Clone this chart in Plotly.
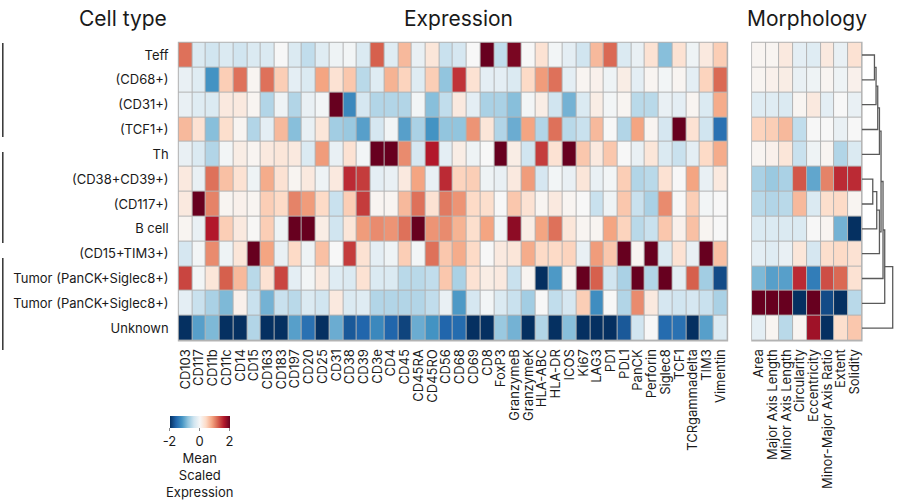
import plotly.graph_objects as go

W, H = 898, 504

cell_types = ["Teff", "(CD68+)", "(CD31+)", "(TCF1+)", "Th", "(CD38+CD39+)", "(CD117+)",
              "B cell", "(CD15+TIM3+)", "Tumor (PanCK+Siglec8+)", "Tumor (PanCK+Siglec8+)", "Unknown"]

markers = ["CD103", "CD117", "CD11b", "CD11c", "CD14", "CD15", "CD163", "CD183", "CD197", "CD20",
           "CD25", "CD31", "CD38", "CD39", "CD3e", "CD4", "CD45", "CD45RA", "CD45RO", "CD56",
           "CD68", "CD69", "CD8", "FoxP3", "GranzymeB", "GranzymeK", "HLA-ABC", "HLA-DR", "ICOS", "Ki67",
           "LAG3", "PD1", "PDL1", "PanCK", "Perforin", "Siglec8", "TCF1", "TCRgammadelta", "TIM3", "Vimentin"]

morph_features = ["Area", "Major Axis Length", "Minor Axis Length", "Circularity", "Eccentricity",
                  "Minor-Major Axis Ratio", "Extent", "Solidity"]

expr_teff = [1.1, -0.3, -0.4, -0.3, -0.4, -0.3, -0.3, 0.0, -0.3, -0.5, -0.25, -0.1, -0.05,
             -0.3, 1.2, -0.25, 0.65, -0.15, 0.25, -0.45, -0.35, 0.0, 2.0, -0.5, 1.9, 0.0,
             0.3, -0.05, -0.2, -0.4, 0.65, 1.15, -0.3, -0.15, 0.3, -0.85, 0.3, -0.1, 0.2, 0.5]
expr_cd68 = [-0.15, -0.25, -1.2, 0.5, 1.1, 0.05, 1.1, 0.5, -0.2, -0.3, 0.8, 0.3, 0.55,
             -0.55, -0.25, 0.7, 0.45, -0.25, 0.5, -0.8, 1.45, 0.3, -0.2, -0.2, -0.3, 0.4,
             0.85, 1.1, -0.2, 0.05, 0.1, -0.1, 0.15, -0.2, 0.05, -0.05, 0.05, -0.2, 0.45, 1.15]
expr_cd31 = [-0.15, -0.25, -0.3, 0.2, 0.2, 0.05, -0.6, -0.1, -0.6, -0.15, -0.05, 2.1, -1.3,
             -0.35, -0.6, -0.6, -0.6, -0.05, -0.85, -0.5, 0.2, -0.2, -0.65, -0.65, -0.85, -0.05,
             0.15, -0.4, -0.95, -0.3, 0.15, -0.05, 0.05, -0.55, -0.55, -0.15, -0.2, 0.05, -0.3, 0.75]
expr_tcf1 = [0.65, 0.3, -0.85, 0.35, 0.05, -0.6, -0.2, 0.65, -0.85, -0.15, 0.25, -0.7, -0.75,
             -1.1, -0.35, -0.05, -1.1, -0.65, -1.2, -0.8, -0.8, 0.9, 0.25, -0.6, -1.0, 0.8,
             -0.6, 1.1, -0.55, -0.45, 0.65, 0.0, -0.6, 0.8, 0.05, -0.35, 2.1, 0.3, -0.4, -1.5]
expr_th = [-0.15, -0.3, -0.6, -0.05, 0.15, 0.05, 0.2, 0.25, 0.2, -0.3, 0.85, -0.15, 0.3,
           -0.05, 2.1, 2.1, 0.95, -0.35, 1.6, -0.2, 0.15, -0.1, 0.0, 2.1, 0.15, -0.4,
           1.4, 0.3, 2.1, 0.55, 0.2, 0.55, 0.0, -0.15, 0.25, -0.3, -0.45, -0.2, 0.4, 0.75]
expr_cd38 = [0.2, -0.15, 1.1, 0.6, 0.3, -0.1, 0.75, 0.3, 0.05, 0.2, -0.1, 0.2, 1.5,
             1.4, -0.2, -0.15, 0.2, 0.8, -0.15, 1.5, 0.45, 0.5, -0.1, -0.15, 0.2, 0.85,
             -0.35, -0.05, -0.15, 0.25, -0.15, -0.05, 0.5, -0.6, -0.55, 0.3, 0.0, 0.8, -0.15, 0.2]
expr_cd117 = [0.2, 2.1, 1.0, 0.05, 0.1, 0.05, 0.5, 0.4, 1.0, 0.85, 0.4, -0.45, 0.5,
              1.4, 0.05, 0.05, 0.65, 1.1, 0.3, 1.05, 0.9, 0.4, 0.35, 0.0, 0.55, 0.3,
              0.05, 0.2, 0.05, 0.0, -0.45, -0.1, 0.55, -0.45, -0.65, 0.95, 0.0, 0.5, -0.05, 0.0]
expr_bcell = [0.05, -0.15, 1.6, 0.5, 0.2, 0.02, 0.5, -0.1, 2.1, 2.1, 0.15, -0.4, 0.25,
              0.85, 0.95, 0.9, 1.1, 2.1, 0.9, 0.95, 0.7, 0.35, 0.8, -0.05, 1.8, 0.15,
              0.8, 1.1, 0.25, 0.05, 0.05, 0.8, 0.45, -0.55, -0.45, 0.55, 0.1, 0.6, 0.05, 0.0]
expr_cd15 = [-0.35, -0.05, 0.95, -0.1, 0.25, 2.1, 0.8, -0.15, 0.4, -0.1, 0.6, 0.0, 1.4,
             0.3, -0.2, -0.1, 0.5, -0.05, 1.1, 0.55, 0.75, 0.4, 0.0, 0.2, 0.25, 0.75,
             0.4, 0.4, 0.45, -0.15, 0.85, 0.55, 2.1, 0.05, 2.1, -0.3, 0.3, -0.15, 2.1, 0.6]
expr_tumor1 = [1.35, -0.05, 0.25, 1.2, 0.65, -0.55, 0.3, 1.35, -0.2, -0.05, 0.2, -0.25, -0.3,
               0.3, -0.3, -0.3, -0.55, -0.55, -0.5, 0.55, -0.65, 0.3, 0.15, 0.2, -0.45, 0.05,
               -2.1, -1.15, 0.05, 2.1, 1.2, -0.4, -0.65, 2.1, -0.6, 2.1, -0.2, 1.2, -0.7, -1.8]
expr_tumor2 = [-0.2, -0.45, -0.65, -0.9, 0.1, -0.45, -0.95, -0.45, -0.55, -0.3, -0.4, 0.2, -0.3,
               -0.25, -0.6, -0.6, -0.6, -0.6, -0.5, -0.15, -1.15, -0.35, -0.05, -0.3, -0.45, -0.7,
               0.0, -0.5, -0.35, 0.5, -1.25, 0.0, -0.6, 0.95, 0.2, -0.35, -0.4, -0.35, -0.45, -0.65]
expr_unknown = [-2.2, -1.1, -0.9, -2.2, -2.2, -0.6, -2.2, -2.2, -1.1, -1.5, -2.1, -1.0, -1.7,
                -1.6, -1.3, -1.6, -1.85, -1.0, -1.2, -1.6, -1.55, -2.1, -2.1, -0.75, -0.95, -2.1,
                -0.6, -2.0, -0.85, -2.1, -2.1, -2.1, -1.7, -0.4, 0.0, -1.55, -1.5, -2.0, -1.1, -0.3]

morph_teff = [0.05, 0.05, 0.2, -0.2, -0.25, 0.2, -0.15, 0.3]
morph_cd68 = [0.05, 0.1, 0.15, -0.15, -0.1, 0.05, -0.1, 0.1]
morph_cd31 = [-0.25, -0.25, -0.3, 0.05, 0.2, -0.2, 0.0, -0.15]
morph_tcf1 = [0.45, 0.5, 0.65, -0.5, 0.0, 0.0, -0.15, 0.0]
morph_th = [0.05, 0.1, 0.25, -0.45, -0.1, 0.05, -0.6, -0.3]
morph_cd38 = [-0.65, -0.75, -0.65, 1.25, -1.05, 1.0, 1.5, 1.5]
morph_cd117 = [-0.55, -0.6, -0.55, 0.65, -0.3, 0.35, 0.4, 0.05]
morph_bcell = [-0.3, -0.3, -0.3, -0.3, 0.0, 0.05, -0.95, -2.1]
morph_cd15 = [-0.2, -0.25, -0.15, 0.25, -0.35, 0.35, 0.4, 0.3]
morph_tumor1 = [-0.9, -1.1, -1.1, 1.5, -1.4, 1.3, 1.15, 0.3]
morph_tumor2 = [2.1, 2.1, 2.1, -2.1, 2.0, -1.8, -2.1, -0.55]
morph_unknown = [-0.2, 0.05, -0.55, 0.05, 1.7, -2.0, 0.35, 0.55]

# row dendrogram: (child a, child b, merge distance); leaves 0..11, new clusters 12..
dendro_merges = [(0, 1, 12.7), (12, 2, 14.3), (13, 3, 16.0), (14, 4, 17.7),
                 (5, 6, 11.0), (16, 7, 15.0), (17, 8, 17.7), (15, 18, 19.3),
                 (19, 9, 21.3), (20, 10, 23.0), (21, 11, 31.0)]

expr = [expr_teff, expr_cd68, expr_cd31, expr_tcf1, expr_th, expr_cd38, expr_cd117,
        expr_bcell, expr_cd15, expr_tumor1, expr_tumor2, expr_unknown]
morph = [morph_teff, morph_cd68, morph_cd31, morph_tcf1, morph_th, morph_cd38, morph_cd117,
         morph_bcell, morph_cd15, morph_tumor1, morph_tumor2, morph_unknown]

rdbu = ["#053061", "#2166ac", "#4393c3", "#92c5de", "#d1e5f0", "#f7f7f7",
        "#fddbc7", "#f4a582", "#d6604d", "#b2182b", "#67001f"]
colorscale = [[i / 10, c] for i, c in enumerate(rdbu)]

FONT = "Inter"
TXT = "#1a1a1a"


def px(x):
    return x / W


def py(y):
    return 1 - y / H


HM_TOP, HM_BOT = 42.6, 340.6
EX_L, EX_R = 177.0, 727.0
MO_L, MO_R = 751.7, 861.7

n_rows = len(cell_types)
rows = list(range(n_rows))

fig = go.Figure()
fig.add_trace(go.Heatmap(x=list(range(len(markers))), y=rows, z=expr, coloraxis="coloraxis",
                         xgap=1, ygap=1, xaxis="x", yaxis="y", hoverinfo="z"))
fig.add_trace(go.Heatmap(x=list(range(len(morph_features))), y=rows, z=morph, coloraxis="coloraxis",
                         xgap=1, ygap=1, xaxis="x2", yaxis="y2", hoverinfo="z"))

# dendrogram
pos = {i: float(i) for i in rows}
hgt = {i: 0.0 for i in rows}
dx, dy = [], []
for k, (a, b, h) in enumerate(dendro_merges):
    dx += [hgt[a], h, h, hgt[b], None]
    dy += [pos[a], pos[a], pos[b], pos[b], None]
    pos[n_rows + k] = (pos[a] + pos[b]) / 2
    hgt[n_rows + k] = h
fig.add_trace(go.Scatter(x=dx, y=dy, mode="lines", line=dict(color="#5a5a5a", width=1.3),
                         xaxis="x3", yaxis="y3", hoverinfo="skip", showlegend=False))

ydom = [py(HM_BOT), py(HM_TOP)]
yr = [n_rows - 0.5, -0.5]
common_ax = dict(showgrid=False, zeroline=False, showline=False, ticks="")

fig.update_layout(
    width=W, height=H, margin=dict(l=0, r=0, t=0, b=0),
    paper_bgcolor="white", plot_bgcolor="rgba(0,0,0,0)",
    font=dict(family=FONT, color=TXT, size=13),
    showlegend=False,
    xaxis=dict(domain=[px(EX_L), px(EX_R)], range=[-0.5, len(markers) - 0.5], anchor="y",
               tickvals=list(range(len(markers))), ticktext=markers, tickangle=-90,
               tickfont=dict(size=13, family=FONT, color=TXT), ticklabelstandoff=5, **common_ax),
    yaxis=dict(domain=ydom, range=yr, anchor="x", tickvals=rows, ticktext=cell_types,
               tickfont=dict(size=13, family=FONT, color=TXT), ticklabelstandoff=9, **common_ax),
    xaxis2=dict(domain=[px(MO_L), px(MO_R)], range=[-0.5, len(morph_features) - 0.5], anchor="y2",
                tickvals=list(range(len(morph_features))), ticktext=morph_features, tickangle=-90,
                tickfont=dict(size=13, family=FONT, color=TXT), ticklabelstandoff=5, **common_ax),
    yaxis2=dict(domain=ydom, range=yr, anchor="x2", showticklabels=False, **common_ax),
    xaxis3=dict(domain=[px(MO_R), 1.0], range=[0, W - MO_R], anchor="y3", visible=False),
    yaxis3=dict(domain=ydom, range=yr, anchor="x3", visible=False),
    coloraxis=dict(colorscale=colorscale, cmin=-2, cmax=2,
                   colorbar=dict(orientation="h", x=px(198), xanchor="center", y=py(416), yanchor="top",
                                 len=60, lenmode="pixels", thickness=12, thicknessmode="pixels",
                                 outlinewidth=0, xpad=0, ypad=0, tickvals=[-2, 0, 2],
                                 ticktext=["-2", "0", "2"],
                                 ticks="outside", ticklen=3, tickcolor="#888888",
                                 tickfont=dict(size=13, family=FONT, color=TXT))),
)

shapes = []
for (l, r) in [(EX_L, EX_R), (MO_L, MO_R)]:
    shapes.append(dict(type="rect", xref="paper", yref="paper", layer="below",
                       x0=px(l - 0.8), x1=px(r + 0.8), y0=py(HM_BOT + 0.8), y1=py(HM_TOP - 0.8),
                       fillcolor="#b3b3b3", line=dict(width=0)))
for (y0, y1) in [(43, 137), (152, 243), (258, 350)]:
    shapes.append(dict(type="line", xref="paper", yref="paper", x0=px(0.8), x1=px(0.8),
                       y0=py(y0), y1=py(y1), line=dict(color="#333333", width=1.5)))
fig.update_layout(shapes=shapes)

ann = [
    dict(text="Cell type", x=px(167), y=py(19), xanchor="right", yanchor="middle", font=dict(size=21)),
    dict(text="Expression", x=px(458), y=py(19), xanchor="center", yanchor="middle", font=dict(size=21)),
    dict(text="Morphology", x=px(807), y=py(19), xanchor="center", yanchor="middle", font=dict(size=21)),
    dict(text="Mean<br>Scaled<br>Expression", x=px(198), y=py(448), xanchor="center", yanchor="top",
         align="center", font=dict(size=13)),
]
for a in ann:
    a.update(xref="paper", yref="paper", showarrow=False)
    a["font"] = dict(family=FONT, color=TXT, **a["font"])
fig.update_layout(annotations=ann)

fig.write_html("out.html")
